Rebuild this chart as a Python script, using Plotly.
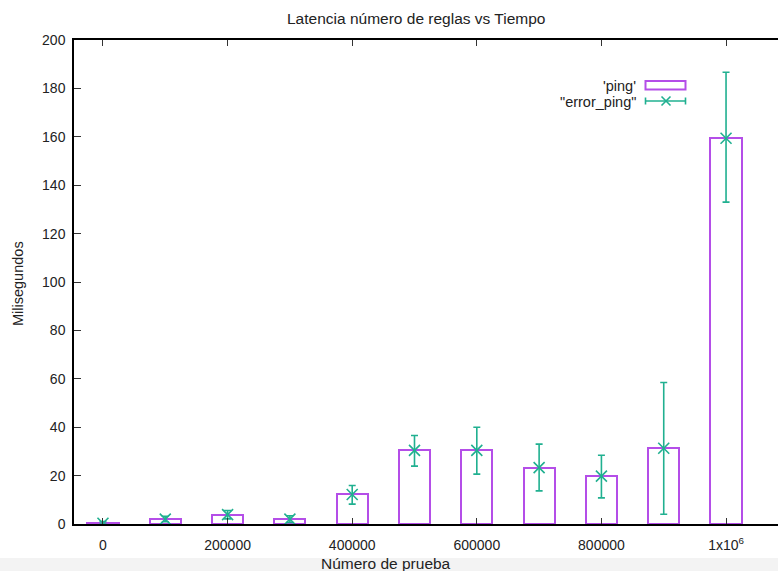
import plotly.graph_objects as go

# ---- data ----
test_numbers = [0, 100000, 200000, 300000, 400000, 500000, 600000, 700000, 800000, 900000, 1000000]
ping_ms = [0.3, 2.0, 3.9, 2.0, 12.2, 30.4, 30.4, 23.3, 19.8, 31.3, 159.4]
err_upper = [1.0, 3.2, 5.6, 3.4, 15.9, 36.6, 40.0, 33.0, 28.4, 58.5, 186.7]
err_lower = [0.0, 0.9, 2.1, 0.6, 8.2, 23.9, 20.6, 13.7, 10.8, 4.0, 133.0]
x_tickvals = [0, 200000, 400000, 600000, 800000, 1000000]
x_ticktext = ["0", "200000", "400000", "600000", "800000", "1x10<sup>6</sup>"]
y_tickvals = [0, 20, 40, 60, 80, 100, 120, 140, 160, 180, 200]

PURPLE = "#b44ee8"
TEAL = "#20b090"
FONT = "Liberation Sans, Arial, sans-serif"

W, H = 778, 571
L, R, T, B = 74, 0, 40, 47
PW, PH = W - L - R, H - T - B


def px(x):
    return (x - L) / PW


def py(y):
    return (H - B - y) / PH


err_plus = [u - v for u, v in zip(err_upper, ping_ms)]
err_minus = [v - l for v, l in zip(ping_ms, err_lower)]

fig = go.Figure()
fig.add_trace(go.Bar(
    x=test_numbers, y=ping_ms, width=50000,
    marker=dict(color="rgba(0,0,0,0)", line=dict(color=PURPLE, width=2)),
    name="'ping'", showlegend=False,
))
fig.add_trace(go.Scatter(
    x=test_numbers, y=ping_ms, mode="markers",
    marker=dict(symbol="x-thin", size=11, line=dict(color=TEAL, width=1.6), color=TEAL),
    error_y=dict(type="data", symmetric=False, array=err_plus, arrayminus=err_minus,
                 color=TEAL, thickness=1.6, width=3.5),
    name='"error_ping"', showlegend=False,
))

shapes = [
    # bottom light-grey strip
    dict(type="rect", xref="paper", yref="paper", x0=px(0), x1=px(W), y0=py(H), y1=py(558),
         fillcolor="#f3f3f3", line=dict(width=0), layer="below"),
    # legend: ping sample box
    dict(type="rect", xref="paper", yref="paper", x0=px(645.5), x1=px(685.5), y0=py(89.5), y1=py(81),
         line=dict(color=PURPLE, width=2), fillcolor="rgba(0,0,0,0)"),
    # legend: error sample
    dict(type="line", xref="paper", yref="paper", x0=px(645.5), x1=px(685.5), y0=py(101), y1=py(101),
         line=dict(color=TEAL, width=1.6)),
    dict(type="line", xref="paper", yref="paper", x0=px(645.5), x1=px(645.5), y0=py(97.5), y1=py(104.5),
         line=dict(color=TEAL, width=1.6)),
    dict(type="line", xref="paper", yref="paper", x0=px(685.5), x1=px(685.5), y0=py(97.5), y1=py(104.5),
         line=dict(color=TEAL, width=1.6)),
    dict(type="line", xref="paper", yref="paper", x0=px(661.5), x1=px(670.5), y0=py(96.5), y1=py(105.5),
         line=dict(color=TEAL, width=1.6)),
    dict(type="line", xref="paper", yref="paper", x0=px(661.5), x1=px(670.5), y0=py(105.5), y1=py(96.5),
         line=dict(color=TEAL, width=1.6)),
]

annotations = [
    dict(text="Latencia número de reglas vs Tiempo", x=px(416), y=py(19), xref="paper", yref="paper",
         showarrow=False, xanchor="center", yanchor="middle", font=dict(size=15.5, color="#222")),
    dict(text="Milisegundos", x=px(18), y=py(284), xref="paper", yref="paper", textangle=-90,
         showarrow=False, xanchor="center", yanchor="middle", font=dict(size=14.5, color="#222")),
    dict(text="Número de prueba", x=px(386), y=py(563), xref="paper", yref="paper",
         showarrow=False, xanchor="center", yanchor="middle", font=dict(size=15.5, color="#222")),
    dict(text="'ping'", x=px(638), y=py(86), xref="paper", yref="paper",
         showarrow=False, xanchor="right", yanchor="middle", font=dict(size=14.5, color="#222")),
    dict(text='"error_ping"', x=px(638), y=py(102), xref="paper", yref="paper",
         showarrow=False, xanchor="right", yanchor="middle", font=dict(size=14.5, color="#222")),
]

fig.update_layout(
    width=W, height=H,
    margin=dict(l=L, r=R, t=T, b=B, pad=0),
    paper_bgcolor="white", plot_bgcolor="white",
    font=dict(family=FONT, size=14, color="#222"),
    showlegend=False,
    shapes=shapes, annotations=annotations,
    xaxis=dict(range=[-46500, 1083400], tickmode="array", tickvals=x_tickvals, ticktext=x_ticktext,
               ticks="inside", ticklen=6, tickcolor="#333", tickwidth=1.2,
               showline=True, linecolor="black", linewidth=1.5, mirror="ticks",
               showgrid=False, zeroline=False, fixedrange=True, ticklabelstandoff=7),
    yaxis=dict(range=[0, 200], tickmode="array", tickvals=y_tickvals,
               ticks="inside", ticklen=7, tickcolor="#333", tickwidth=1.2,
               showline=True, linecolor="black", linewidth=1.5, mirror=False,
               showgrid=False, zeroline=False, fixedrange=True, ticklabelstandoff=4),
    bargap=0,
)

fig.write_html("out.html", config={"displayModeBar": False})
